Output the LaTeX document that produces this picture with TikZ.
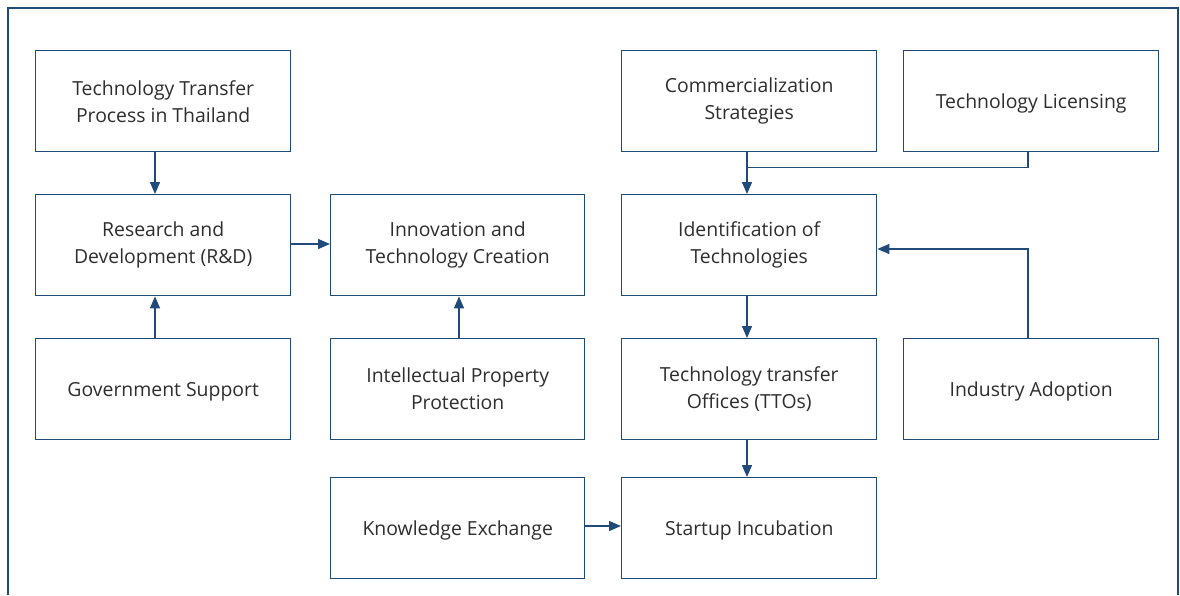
\documentclass[tikz,border=0pt]{standalone}
\usepackage{fontspec}
\setmainfont{Open Sans}
\usetikzlibrary{arrows.meta}
\definecolor{frameblue}{HTML}{1F4A7A}
\definecolor{textgray}{HTML}{2E2E2E}
\begin{document}
\begin{tikzpicture}[x=1pt,y=-1pt,
  box/.style={draw=frameblue,line width=1.4pt,fill=white,minimum width=255pt,minimum height=101pt,
    inner sep=0pt,align=center,text=textgray,font=\fontsize{19.4}{27}\selectfont,anchor=north west},
  oneline/.style={text depth=0pt},
  link/.style={draw=frameblue,line width=1.4pt,-{Triangle[length=12pt,width=10pt]}},
  plain/.style={draw=frameblue,line width=1.4pt}]
\useasboundingbox (0,0) rectangle (1180,595);
\draw[plain] (8,595) -- (8,8) -- (1178,8) -- (1178,595);
% first row
\node[box] (ttp) at (35,50) {Technology Transfer\\Process in Thailand};
\node[box] (cs) at (621,50) {Commercialization\\Strategies};
\node[box,oneline] (tl) at (903,50) {Technology Licensing};
% second row
\node[box] (rd) at (35,194) {Research and\\Development (R\&D)};
\node[box,minimum width=254pt] (itc) at (330,194) {Innovation and\\Technology Creation};
\node[box] (idt) at (621,194) {Identification of\\Technologies};
% third row
\node[box,oneline] (gs) at (35,338) {Government Support};
\node[box,minimum width=254pt] (ipp) at (330,338) {Intellectual Property\\Protection};
\node[box] (tto) at (621,338) {Technology transfer\\Offices (TTOs)};
\node[box,oneline] (ia) at (903,338) {Industry Adoption};
% fourth row
\node[box,oneline,minimum width=254pt] (ke) at (330,477) {Knowledge Exchange};
\node[box,oneline] (si) at (621,477) {Startup Incubation};
% connectors
\draw[link] (ttp.south west) ++(120,0) coordinate (a1) -- (a1 |- rd.north);
\draw[link] (gs.north west) ++(120,0) coordinate (a2) -- (a2 |- rd.south);
\draw[link] (rd.east |- 0,244) coordinate (a3) -- (a3 -| itc.west);
\draw[link] (ipp.north west) ++(129,0) coordinate (a4) -- (a4 |- itc.south);
\draw[link] (cs.south west) ++(126,0) coordinate (a5) -- (a5 |- idt.north);
\draw[plain] (tl.south west) ++(125,0) coordinate (a6) -- ++(0,15) -| (a5);
\draw[link] (ia.north west) ++(125,0) coordinate (a7) |- (idt.east |- 0,249);
\draw[link] (idt.south west) ++(126,0) coordinate (a8) -- (a8 |- tto.north);
\draw[link] (tto.south west) ++(126,0) coordinate (a9) -- (a9 |- si.north);
\draw[link] (ke.east |- 0,526) coordinate (a10) -- (a10 -| si.west);
\end{tikzpicture}
\end{document}
